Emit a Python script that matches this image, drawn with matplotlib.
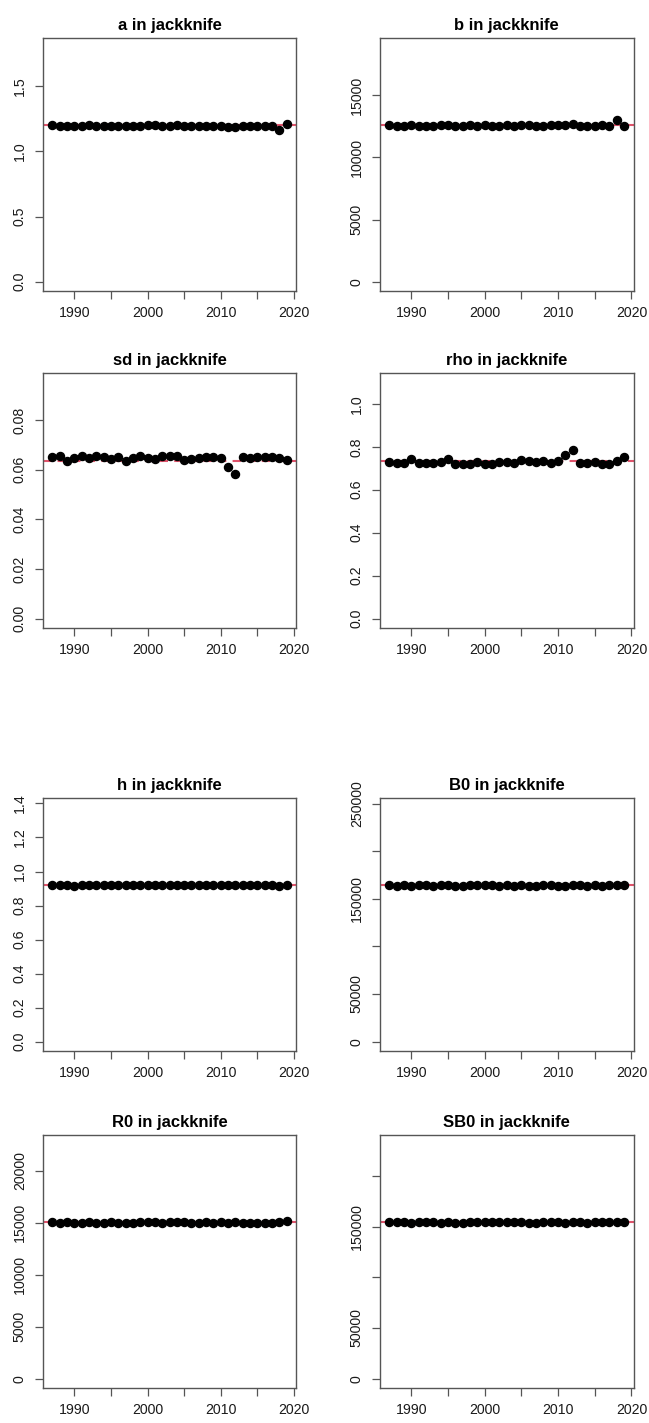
import numpy as np
import matplotlib
matplotlib.use('Agg')
from matplotlib import pyplot as plt

plt.rcParams['font.family'] = ['Liberation Sans', 'DejaVu Sans']

years = list(range(1987, 2020))

# full-data estimates (dashed reference lines)
a_base = 1.200
b_base = 12575
sd_base = 0.0635
rho_base = 0.733
h_base = 0.918
B0_base = 164000
R0_base = 15030
SB0_base = 154000

# leave-one-year-out estimates
a_jk = [1.200, 1.198, 1.199, 1.197, 1.199, 1.200, 1.198, 1.198, 1.199, 1.199, 1.197,
        1.198, 1.199, 1.200, 1.201, 1.199, 1.199, 1.200, 1.199, 1.197, 1.198, 1.199,
        1.198, 1.199, 1.188, 1.191, 1.198, 1.197, 1.199, 1.199, 1.199, 1.165, 1.210]
b_jk = [12575, 12565, 12570, 12575, 12565, 12570, 12565, 12575, 12580, 12570, 12565,
        12575, 12570, 12575, 12565, 12570, 12575, 12570, 12580, 12575, 12565, 12570,
        12575, 12585, 12620, 12710, 12570, 12565, 12570, 12575, 12570, 12990, 12550]
sd_jk = [0.0650, 0.0654, 0.0636, 0.0648, 0.0654, 0.0648, 0.0654, 0.0651, 0.0643, 0.0651, 0.0636,
         0.0648, 0.0654, 0.0647, 0.0643, 0.0654, 0.0654, 0.0654, 0.0638, 0.0643, 0.0647, 0.0650,
         0.0651, 0.0648, 0.0613, 0.0582, 0.0651, 0.0648, 0.0651, 0.0651, 0.0651, 0.0648, 0.0639]
rho_jk = [0.731, 0.723, 0.723, 0.742, 0.725, 0.725, 0.725, 0.730, 0.745, 0.722, 0.719,
          0.722, 0.727, 0.722, 0.720, 0.731, 0.727, 0.725, 0.738, 0.733, 0.728, 0.736,
          0.725, 0.733, 0.762, 0.786, 0.725, 0.723, 0.731, 0.720, 0.720, 0.736, 0.753]
h_jk = [0.918, 0.918, 0.918, 0.917, 0.918, 0.918, 0.918, 0.918, 0.918, 0.918, 0.918,
        0.918, 0.918, 0.918, 0.918, 0.918, 0.918, 0.918, 0.918, 0.918, 0.918, 0.918,
        0.918, 0.918, 0.918, 0.918, 0.918, 0.918, 0.918, 0.918, 0.918, 0.916, 0.918]
B0_jk = [164000, 163800, 164300, 163700, 164000, 164100, 163800, 164000, 164100, 163800, 163700,
         164000, 164100, 164200, 164000, 163900, 164000, 163900, 164200, 163800, 163800, 164000,
         164100, 163900, 163400, 164500, 164000, 163700, 164000, 163900, 164100, 164600, 165000]
R0_jk = [15040, 15010, 15050, 15000, 15020, 15040, 15010, 15000, 15030, 15010, 15000,
         15020, 15040, 15050, 15040, 15020, 15030, 15040, 15030, 14990, 15010, 15040,
         15020, 15040, 14980, 15050, 15020, 15010, 15020, 15010, 15020, 15100, 15140]
SB0_jk = [154000, 154100, 154200, 153900, 154100, 154200, 154000, 153900, 154100, 153900, 153800,
          154000, 154100, 154200, 154100, 154000, 154000, 154100, 154100, 153800, 153900, 154100,
          154000, 154100, 153700, 154200, 154000, 153900, 154000, 154000, 154100, 154500, 154800]

# y tick positions and labels (labels that would collide are left blank)
a_ticks = [0.0, 0.5, 1.0, 1.5]
a_labels = ['0.0', '0.5', '1.0', '1.5']
b_ticks = [0, 5000, 10000, 15000]
b_labels = ['0', '5000', '10000', '15000']
sd_ticks = [0.00, 0.02, 0.04, 0.06, 0.08]
sd_labels = ['0.00', '0.02', '0.04', '0.06', '0.08']
rho_ticks = [0.0, 0.2, 0.4, 0.6, 0.8, 1.0]
rho_labels = ['0.0', '0.2', '0.4', '0.6', '0.8', '1.0']
h_ticks = [0.0, 0.2, 0.4, 0.6, 0.8, 1.0, 1.2, 1.4]
h_labels = ['0.0', '0.2', '0.4', '0.6', '0.8', '1.0', '1.2', '1.4']
B0_ticks = [0, 50000, 100000, 150000, 200000, 250000]
B0_labels = ['0', '50000', '', '150000', '', '250000']
R0_ticks = [0, 5000, 10000, 15000, 20000]
R0_labels = ['0', '5000', '10000', '15000', '20000']
SB0_ticks = [0, 50000, 100000, 150000, 200000]
SB0_labels = ['0', '50000', '', '150000', '']

x_ticks = [1990, 1995, 2000, 2005, 2010, 2015, 2020]
x_labels = ['1990', '', '2000', '', '2010', '', '2020']


def jk_panel(ax, name, vals, base, yticks, ylabels):
    top = 1.5 * base
    ax.axhline(base, color='#DF536B', ls=(0, (4, 3)), lw=1.5, zorder=1)
    ax.plot(years, vals, 'o', color='black', markersize=5.8, zorder=2)
    ax.set_xlim(1985.72, 2020.28)
    ax.set_ylim(-0.04 * top, 1.04 * top)
    ax.set_xticks(x_ticks)
    ax.set_xticklabels(x_labels)
    ax.set_yticks(yticks)
    ax.set_yticklabels(ylabels)
    for lab in ax.get_yticklabels():
        lab.set_rotation(90)
        lab.set_va('center')
    ax.tick_params(direction='out', length=5.6, width=0.9, color='#555555',
                   labelsize=10.2, labelcolor='#1a1a1a')
    ax.tick_params(axis='x', pad=5)
    ax.tick_params(axis='y', pad=6)
    for s in ax.spines.values():
        s.set_color('#555555')
        s.set_linewidth(1.0)
    ax.set_title(name + ' in jackknife', fontsize=12, fontweight='bold', pad=6)


def main():
    W, H = 649, 1423
    fig = plt.figure(figsize=(W / 100, H / 100), dpi=100)

    cols = [(43, 296), (380, 633.5)]
    rows = [(38, 291), (373, 628), (798, 1051), (1135, 1388)]

    panels = [
        ('a', a_jk, a_base, a_ticks, a_labels),
        ('b', b_jk, b_base, b_ticks, b_labels),
        ('sd', sd_jk, sd_base, sd_ticks, sd_labels),
        ('rho', rho_jk, rho_base, rho_ticks, rho_labels),
        ('h', h_jk, h_base, h_ticks, h_labels),
        ('B0', B0_jk, B0_base, B0_ticks, B0_labels),
        ('R0', R0_jk, R0_base, R0_ticks, R0_labels),
        ('SB0', SB0_jk, SB0_base, SB0_ticks, SB0_labels),
    ]

    for i, (name, vals, base, yt, yl) in enumerate(panels):
        x0, x1 = cols[i % 2]
        y0, y1 = rows[i // 2]
        ax = fig.add_axes([x0 / W, 1 - y1 / H, (x1 - x0) / W, (y1 - y0) / H])
        jk_panel(ax, name, vals, base, yt, yl)

    fig.savefig('out.png', dpi=100, facecolor='white')


if __name__ == "__main__":
    main()
